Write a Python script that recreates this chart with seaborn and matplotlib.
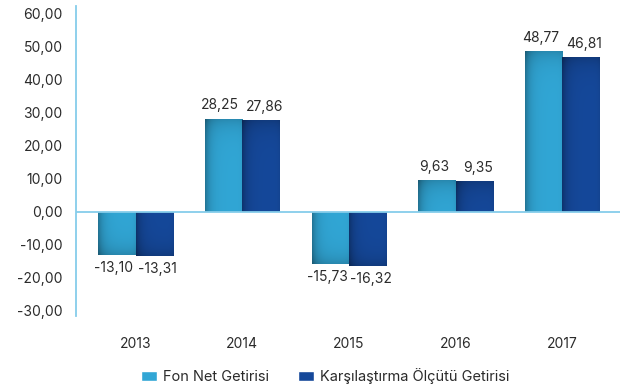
import numpy as np
import pandas as pd
import matplotlib
matplotlib.use("Agg")
import matplotlib.pyplot as plt
import seaborn as sns
from matplotlib.colors import to_rgb

years = ["2013", "2014", "2015", "2016", "2017"]
fon_net = [-13.10, 28.25, -15.73, 9.63, 48.77]
olcut = [-13.31, 27.86, -16.32, 9.35, 46.81]
series_names = ["Fon Net Getirisi", "Karşılaştırma Ölçütü Getirisi"]
y_ticks = [-30, -20, -10, 0, 10, 20, 30, 40, 50, 60]

colors = ["#31a6d5", "#15489a"]
axis_blue = "#86cdea"
text_color = "#2b2b2b"

df = pd.DataFrame({
    "Yıl": years * 2,
    "Değer": fon_net + olcut,
    "Seri": [series_names[0]] * len(years) + [series_names[1]] * len(years),
})

sns.set_theme(style="white")
plt.rcParams["font.family"] = ["Inter", "DejaVu Sans"]

fig = plt.figure(figsize=(6.27, 3.88), dpi=100)
ax = fig.add_axes([0.121, 0.186, 0.868, 0.799])

sns.barplot(data=df, x="Yıl", y="Değer", hue="Seri", hue_order=series_names,
            palette=colors, width=0.7, saturation=1, gap=0, ax=ax,
            errorbar=None, legend=True)

def fmt(v):
    return f"{v:.2f}".replace(".", ",")

# shaded fill for each bar: darker toward the left edge and the far end
bar_patches = [p for p in ax.patches if p.get_height() != 0]
for patch in bar_patches:
    x0, w = patch.get_x(), patch.get_width()
    y0, h = patch.get_y(), patch.get_height()
    base = np.array(to_rgb(patch.get_facecolor()))
    nx, ny = 60, 120
    xs = np.linspace(0, 1, nx)
    ys = np.linspace(0, 1, ny)  # 0 = bottom row of image
    shade_x = 0.30 * np.exp(-xs / 0.14) + 0.06 * np.exp(-(1 - xs) / 0.05)
    far = np.abs(h) * 33 / 10  # approx pixels of bar length
    edge = min(0.9, 10 / max(far, 1))
    dist = (1 - ys) if h >= 0 else ys
    shade_y = 0.18 * np.exp(-dist / max(edge, 0.02))
    shade = np.clip(shade_x[None, :] + shade_y[:, None], 0, 0.45)
    img = base[None, None, :] * (1 - shade[..., None])
    im = ax.imshow(img, extent=[x0, x0 + w, min(y0, y0 + h), max(y0, y0 + h)],
                   origin="lower", aspect="auto", zorder=patch.get_zorder() + 0.1,
                   interpolation="bilinear")
    im.set_clip_path(patch)

# value labels, nudged slightly outward from the pair centre
for cont, vals, dx in zip(ax.containers, [fon_net, olcut], [-2.4, 2.4]):
    for rect, v in zip(cont, vals):
        cx = rect.get_x() + rect.get_width() / 2
        ax.annotate(fmt(v), (cx, v), xytext=(dx, 9.5 if v >= 0 else -9.5),
                    textcoords="offset points", ha="center", va="center",
                    fontsize=10, color=text_color, zorder=5)

ax.set_xlim(-0.56, 4.54)
ax.set_ylim(-31.5, 62.4)
ax.set_yticks(y_ticks)
ax.set_yticklabels([fmt(t) for t in y_ticks], fontsize=10, color=text_color)
ax.tick_params(axis="y", length=0, pad=9.5)
ax.tick_params(axis="x", length=0, pad=15, labelsize=10, labelcolor=text_color)
ax.set_xlabel("")
ax.set_ylabel("")

for s in ["top", "right", "bottom"]:
    ax.spines[s].set_visible(False)
ax.spines["left"].set_color(axis_blue)
ax.spines["left"].set_linewidth(1.3)
ax.axhline(0, color=axis_blue, linewidth=1.3, zorder=4)

handles, labels = ax.get_legend_handles_labels()
ax.legend_.remove()
fig.legend(handles, labels, loc="center", bbox_to_anchor=(0.519, 0.031),
           ncol=2, frameon=False, fontsize=10.5, handlelength=1.1,
           handleheight=0.7, handletextpad=0.4, columnspacing=2.0,
           labelcolor=text_color)

fig.savefig("out.png", dpi=100, facecolor="white")
